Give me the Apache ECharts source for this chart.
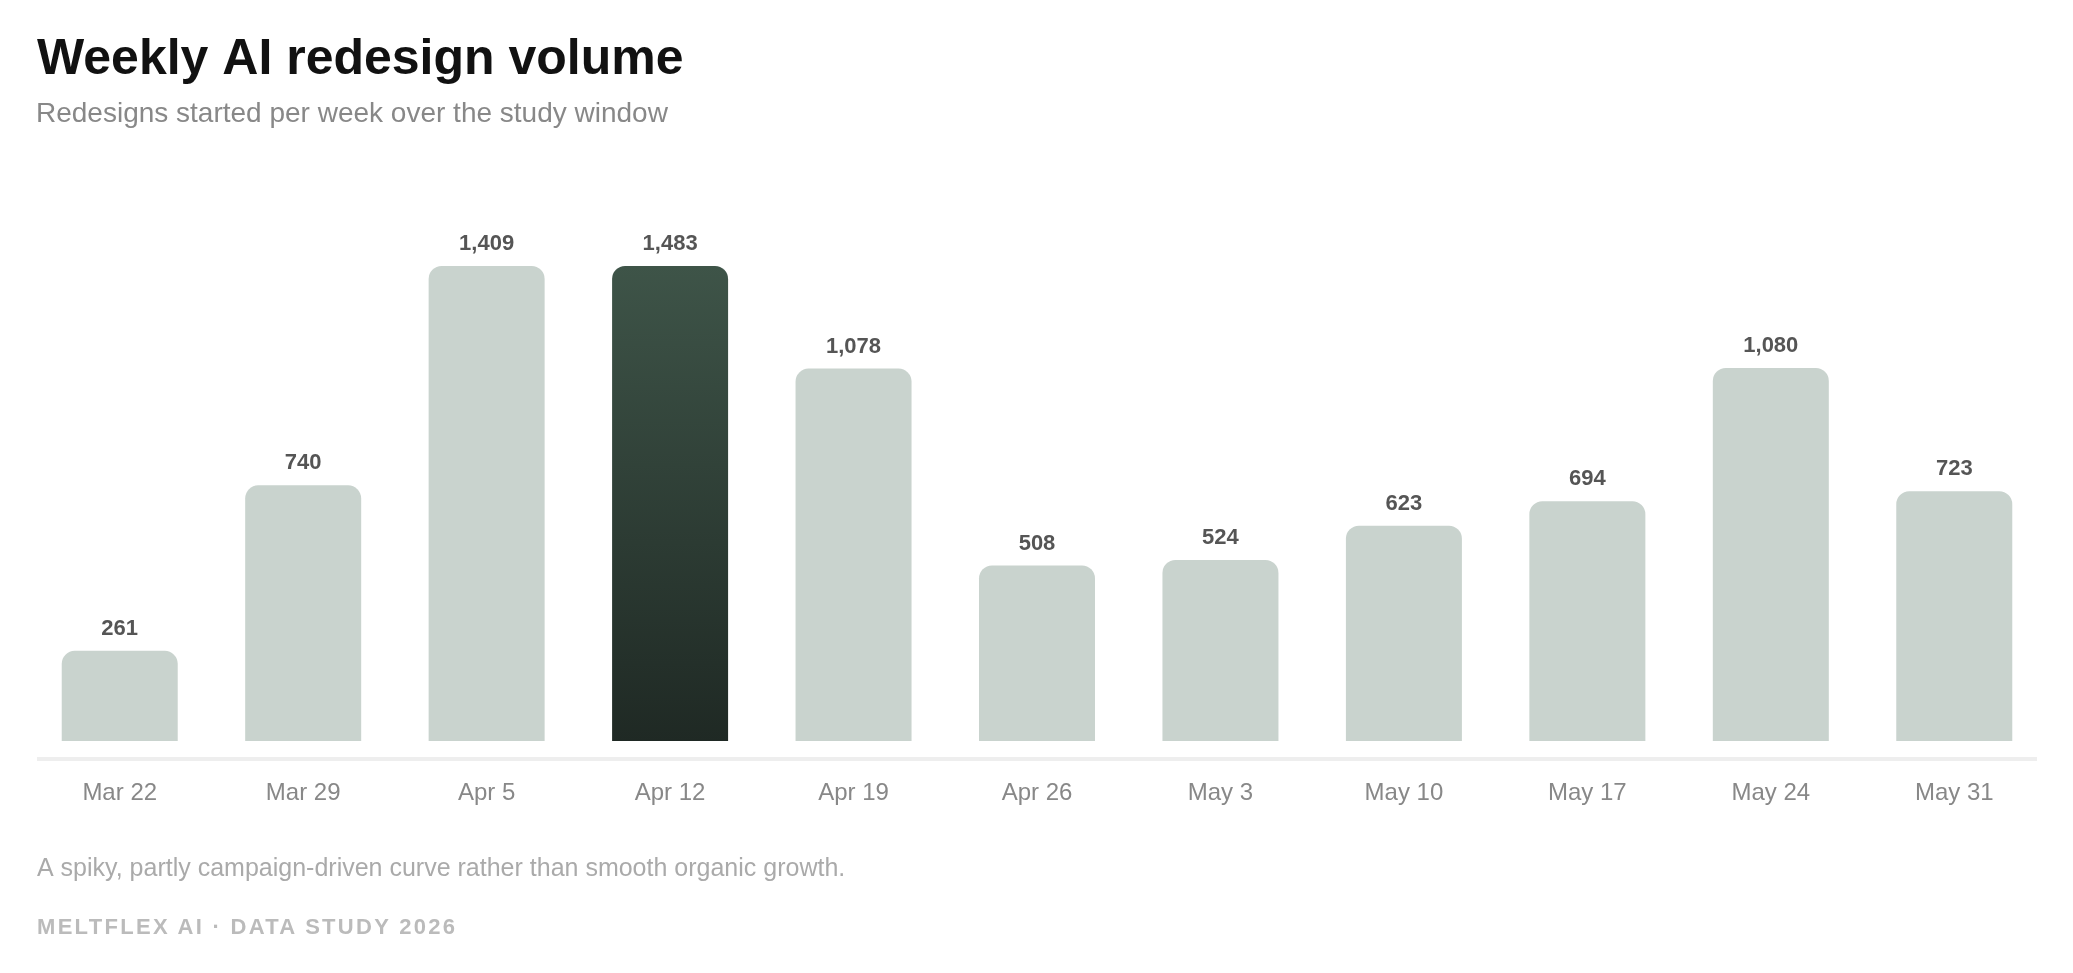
<!DOCTYPE html>
<html>
<head>
<meta charset="utf-8">
<title>Weekly AI redesign volume</title>
<script src="https://cdn.jsdelivr.net/npm/echarts@6/dist/echarts.min.js"></script>
<style>
  html, body { margin: 0; padding: 0; background: #fff; }
  #chart { width: 2073px; height: 973px; }
  .brand {
    position: absolute; left: 37px; top: 914px;
    font: bold 22px "Liberation Sans", Arial, Helvetica, sans-serif;
    letter-spacing: 2.3px; color: #bbbbbb;
  }
</style>
</head>
<body>
<div id="chart"></div>
<div class="brand">MELTFLEX AI · DATA STUDY 2026</div>
<script>
// weekly data
var weeks = ['Mar 22', 'Mar 29', 'Apr 5', 'Apr 12', 'Apr 19', 'Apr 26', 'May 3', 'May 10', 'May 17', 'May 24', 'May 31'];
var redesigns = [261, 740, 1409, 1483, 1078, 508, 524, 623, 694, 1080, 723];
var peakWeek = 'Apr 12';

var FONT = '"Liberation Sans", Arial, Helvetica, sans-serif';

var chart = echarts.init(document.getElementById('chart'));

var barData = redesigns.map(function (v, i) {
    if (weeks[i] !== peakWeek) {
        return v;
    }
    return {
        value: v,
        itemStyle: {
            color: new echarts.graphic.LinearGradient(0, 0, 0, 1, [
                { offset: 0, color: '#3e5448' },
                { offset: 1, color: '#1f2924' }
            ])
        }
    };
});

var option = {
    backgroundColor: '#ffffff',
    animation: false,
    title: [
        {
            text: 'Weekly AI redesign volume',
            left: 37,
            top: 35,
            padding: 0,
            textStyle: { fontFamily: FONT, fontSize: 50, fontWeight: 'bold', color: '#111111' }
        },
        {
            text: 'Redesigns started per week over the study window',
            left: 36,
            top: 100,
            padding: 0,
            textStyle: { fontFamily: FONT, fontSize: 28, fontWeight: 'normal', color: '#888888' }
        },
        {
            text: 'A spiky, partly campaign-driven curve rather than smooth organic growth.',
            left: 37,
            top: 857,
            padding: 0,
            textStyle: { fontFamily: FONT, fontSize: 25, fontWeight: 'normal', color: '#aaaaaa' }
        }
    ],
    grid: {
        left: 28,
        right: 27,
        top: 266,
        bottom: 232
    },
    xAxis: {
        type: 'category',
        data: weeks,
        axisLine: { show: false },
        axisTick: { show: false },
        axisLabel: {
            margin: 40,
            fontFamily: FONT,
            fontSize: 24,
            color: '#888888'
        }
    },
    yAxis: {
        type: 'value',
        min: 0,
        max: 1375,
        show: false,
        splitLine: { show: false }
    },
    series: [{
        type: 'bar',
        data: barData,
        barWidth: 116,
        clip: true,
        itemStyle: {
            color: '#c9d3ce',
            borderRadius: [13, 13, 0, 0]
        },
        label: {
            show: true,
            position: 'top',
            distance: 11,
            fontFamily: FONT,
            fontSize: 22,
            fontWeight: 'bold',
            color: '#555555',
            formatter: function (p) {
                return p.value.toLocaleString('en-US');
            }
        }
    }],
    graphic: [{
        // baseline rule under the bars
        type: 'rect',
        shape: { x: 37, y: 757, width: 2000, height: 4 },
        style: { fill: '#eeeeee' },
        silent: true
    }]
};

chart.setOption(option);
</script>
</body>
</html>
